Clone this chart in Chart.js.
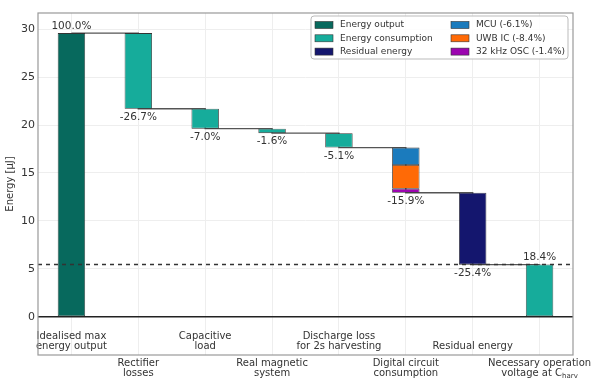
<!DOCTYPE html>
<html lang="en">
<head>
  <meta charset="UTF-8" />
  <title>Energy waterfall</title>
  <style>
    body { margin: 0; background: #fff; }
    .wrap { width: 600px; height: 387px; }
  </style>
</head>
<body>
  <div class="wrap"><canvas id="chart" width="600" height="387"></canvas></div>

  <script src="https://cdn.jsdelivr.net/npm/chart.js"></script>
  <script>
    // categories (x labels, split into lines)
    const categories = [
      ['Idealised max', 'energy output'],
      ['Rectifier', 'losses'],
      ['Capacitive', 'load'],
      ['Real magnetic', 'system'],
      ['Discharge loss', 'for 2s harvesting'],
      ['Digital circuit', 'consumption'],
      ['Residual energy'],
      ['Necessary operation', 'voltage at C']
    ];

    // energy level [µJ] after each step
    const levels = [29.6, 21.7, 19.63, 19.16, 17.65, 12.94, 5.43, 5.45];
    const pctLabels = ['100.0%', '-26.7%', '-7.0%', '-1.6%', '-5.1%', '-15.9%', '-25.4%', '18.4%'];
    const labelAbove = [true, false, false, false, false, false, false, true];

    // floating bars [low, high]
    const outputBars = [[0, 29.6], null, null, null, null, null, null, null];
    const consumptionBars = [null, [21.7, 29.6], [19.63, 21.7], [19.16, 19.63], [17.65, 19.16], null, null, [0, 5.45]];
    const residualBars = [null, null, null, null, null, null, [5.43, 12.94], null];
    const mcuBars = [null, null, null, null, null, [15.84, 17.65], null, null];
    const uwbBars = [null, null, null, null, null, [13.35, 15.84], null, null];
    const oscBars = [null, null, null, null, null, [12.94, 13.35], null, null];

    const thresholdLevel = 5.45;
    const yTicks = [0, 5, 10, 15, 20, 25, 30];

    const legendCol1 = ['Energy output', 'Energy consumption', 'Residual energy'];
    const legendCol2 = ['MCU (-6.1%)', 'UWB IC (-8.4%)', '32 kHz OSC (-1.4%)'];

    const colors = {
      'Energy output': '#07695d',
      'Energy consumption': '#16ac9b',
      'Residual energy': '#14166e',
      'MCU (-6.1%)': '#1b7bbd',
      'UWB IC (-8.4%)': '#ff6a06',
      '32 kHz OSC (-1.4%)': '#9c05b0'
    };

    const FONT = "'DejaVu Sans', sans-serif";
    const TXT = '#333';
    const XFS = 10;

    function barSet(label, data) {
      return {
        type: 'bar',
        label: label,
        data: data,
        backgroundColor: colors[label],
        borderColor: '#333',
        borderWidth: 0.8,
        borderSkipped: false,
        grouped: false,
        barPercentage: 0.41,
        categoryPercentage: 1,
        order: 1
      };
    }

    const overlay = {
      id: 'overlay',
      afterDatasetsDraw(chart) {
        const ctx = chart.ctx;
        const xs = chart.scales.x, ys = chart.scales.y;
        const a = chart.chartArea;
        ctx.save();

        // zero line
        ctx.strokeStyle = '#222';
        ctx.lineWidth = 1.6;
        ctx.beginPath();
        ctx.moveTo(a.left, ys.getPixelForValue(0));
        ctx.lineTo(a.right, ys.getPixelForValue(0));
        ctx.stroke();

        // dashed threshold
        ctx.setLineDash([4, 4]);
        ctx.lineWidth = 1.6;
        ctx.strokeStyle = '#333';
        ctx.beginPath();
        ctx.moveTo(a.left, ys.getPixelForValue(thresholdLevel));
        ctx.lineTo(a.right, ys.getPixelForValue(thresholdLevel));
        ctx.stroke();
        ctx.setLineDash([]);

        // percent labels
        ctx.font = '10.5px ' + FONT;
        ctx.fillStyle = TXT;
        ctx.textAlign = 'center';
        levels.forEach((v, i) => {
          const x = xs.getPixelForValue(i);
          if (labelAbove[i]) {
            ctx.textBaseline = 'bottom';
            ctx.fillText(pctLabels[i], x, ys.getPixelForValue(v) - 2);
          } else {
            ctx.textBaseline = 'top';
            ctx.fillText(pctLabels[i], x, ys.getPixelForValue(v) + 3);
          }
        });

        // x labels, alternating inside / below the axes
        ctx.font = XFS + 'px ' + FONT;
        categories.forEach((lines, i) => {
          const x = xs.getPixelForValue(i);
          const lh = 10.5;
          let y0;
          if (i % 2 === 0) {
            y0 = a.bottom - 3 - lines.length * lh;
          } else {
            y0 = a.bottom + 3;
          }
          ctx.textBaseline = 'top';
          lines.forEach((t, k) => {
            if (i === 7 && k === 1) {
              // "voltage at C" + subscript harv
              ctx.font = XFS + 'px ' + FONT;
              const w1 = ctx.measureText(t).width;
              ctx.font = '7px ' + FONT;
              const w2 = ctx.measureText('harv').width;
              const start = x - (w1 + w2) / 2;
              ctx.textAlign = 'left';
              ctx.font = XFS + 'px ' + FONT;
              ctx.fillText(t, start, y0 + k * lh);
              ctx.font = '7px ' + FONT;
              ctx.fillText('harv', start + w1, y0 + k * lh + 4.5);
              ctx.textAlign = 'center';
              ctx.font = XFS + 'px ' + FONT;
            } else {
              ctx.fillText(t, x, y0 + k * lh);
            }
          });
        });

        // frame
        ctx.strokeStyle = '#999';
        ctx.lineWidth = 1.2;
        ctx.strokeRect(a.left, a.top, a.right - a.left, a.bottom - a.top);

        // legend
        const lx = 311, ly = 16, lw = 257, lh2 = 43;
        ctx.fillStyle = 'rgba(255,255,255,0.85)';
        ctx.strokeStyle = '#bbb';
        ctx.lineWidth = 1;
        ctx.beginPath();
        ctx.roundRect(lx, ly, lw, lh2, 3);
        ctx.fill();
        ctx.stroke();
        ctx.font = '9px ' + FONT;
        ctx.textAlign = 'left';
        ctx.textBaseline = 'middle';
        [[legendCol1, 315], [legendCol2, 451]].forEach(([items, cx]) => {
          items.forEach((name, r) => {
            const cy = ly + 9 + r * 13.3;
            ctx.fillStyle = colors[name];
            ctx.fillRect(cx, cy - 3.5, 18, 7);
            ctx.strokeStyle = '#333';
            ctx.lineWidth = 0.6;
            ctx.strokeRect(cx, cy - 3.5, 18, 7);
            ctx.fillStyle = TXT;
            ctx.fillText(name, cx + 25, cy);
          });
        });

        ctx.restore();
      }
    };

    new Chart(document.getElementById('chart'), {
      data: {
        labels: categories.map(c => c.join(' ')),
        datasets: [
          {
            type: 'line',
            label: 'connector',
            data: levels,
            stepped: 'before',
            borderColor: '#555',
            borderWidth: 1.4,
            pointRadius: 0,
            fill: false,
            order: 2
          },
          barSet('Energy output', outputBars),
          barSet('Energy consumption', consumptionBars),
          barSet('Residual energy', residualBars),
          barSet('MCU (-6.1%)', mcuBars),
          barSet('UWB IC (-8.4%)', uwbBars),
          barSet('32 kHz OSC (-1.4%)', oscBars)
        ]
      },
      options: {
        responsive: false,
        animation: false,
        layout: { padding: { top: 13, right: 27, bottom: 32, left: 4 } },
        plugins: {
          legend: { display: false },
          tooltip: { enabled: false }
        },
        scales: {
          x: {
            type: 'category',
            offset: true,
            grid: { offset: false, color: '#eeeeee', drawTicks: false },
            border: { display: false },
            ticks: { display: false }
          },
          y: {
            min: -4,
            max: 31.7,
            afterBuildTicks: s => { s.ticks = yTicks.map(v => ({ value: v })); },
            afterFit: s => { s.width = 34; },
            grid: { color: '#eeeeee', drawTicks: false },
            border: { display: false },
            ticks: { color: TXT, font: { family: FONT, size: 11 }, padding: 3 },
            title: {
              display: true,
              text: 'Energy [µJ]',
              color: TXT,
              font: { family: FONT, size: 10 },
              padding: { top: 0, bottom: 4 }
            }
          }
        }
      },
      plugins: [overlay]
    });
  </script>
</body>
</html>
